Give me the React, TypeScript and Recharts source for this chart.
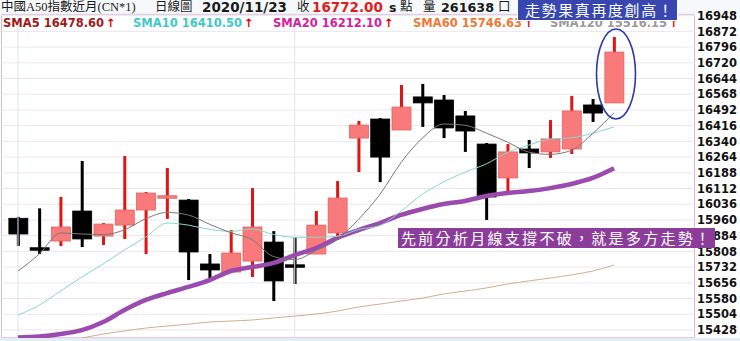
import React from 'react';
import { ComposedChart, Bar, Line, XAxis, YAxis, CartesianGrid, ReferenceLine } from 'recharts';

const dates = ['10/14','10/15','10/16','10/19','10/20','10/21','10/22','10/23','10/26','10/27','10/28','10/29','10/30','11/02','11/03','11/04','11/05','11/06','11/09','11/10','11/11','11/12','11/13','11/16','11/17','11/18','11/19','11/20','11/23'];
const opens = [15968,15821,15858,16003,15882,15935,16008,16066,16056,15747,15708,15761,15853,15742,15795,15897,16356,16448,16395,16555,16540,16463,16327,16163,16303,16289,16303,16516,16526];
const highs = [15975,16016,16071,16245,15945,16269,16095,16211,16061,15795,15911,16114,15906,15877,16003,16148,16439,16453,16613,16618,16564,16487,16332,16327,16347,16443,16560,16545,16845];
const lows = [15834,15795,15834,15829,15839,15868,15795,15965,15669,15679,15708,15684,15568,15650,15795,15863,16192,16143,16395,16410,16356,16289,15960,16090,16211,16260,16279,16434,16526];
const closes = [15892,15818,15926,15868,15940,16008,16090,16076,15805,15718,15800,15926,15665,15732,15935,16066,16419,16264,16506,16526,16405,16390,16071,16289,16284,16352,16487,16477,16772];

const sma5 = [15713,15795,15897,15892,15889,15912,15966,15996,15984,15939,15898,15865,15783,15768,15812,15865,15963,16083,16238,16356,16424,16418,16380,16336,16288,16277,16297,16378,16478];
const sma10 = [15500,15548,15616,15684,15747,15815,15877,15945,15935,15914,15905,15916,15890,15876,15876,15881,15914,15933,16003,16084,16144,16191,16231,16287,16322,16351,16357,16379,16410];
const sma20 = [15392,15396,15408,15427,15466,15524,15573,15606,15636,15669,15713,15732,15752,15790,15824,15873,15911,15945,15984,16013,16037,16052,16076,16090,16100,16114,16134,16163,16210];
const sma60 = [null,null,null,15389,15408,15423,15437,15447,15456,15466,15471,15476,15486,15495,15505,15519,15539,15553,15568,15582,15602,15616,15631,15650,15665,15679,15694,15713,15742];

const yTicks = [16948,16872,16796,16720,16644,16568,16492,16416,16340,16264,16188,16112,16036,15960,15884,15808,15732,15656,15580,15504,15428];

const legend = [
  { label: 'SMA5 16478.60', color: '#9e1a1a', left: 3 },
  { label: 'SMA10 16410.50', color: '#3fc9c9', left: 133 },
  { label: 'SMA20 16212.10', color: '#d4209c', left: 273 },
  { label: 'SMA60 15746.63', color: '#ee7a36', left: 413 },
  { label: 'SMA120 15516.15', color: '#9a9a9a', left: 550 },
];

const data = dates.map((d, i) => ({
  d,
  open: opens[i],
  high: highs[i],
  low: lows[i],
  close: closes[i],
  range: [lows[i], highs[i]],
  sma5: sma5[i],
  sma10: sma10[i],
  sma20: sma20[i],
  sma60: sma60[i],
}));

const Candle = (props: any) => {
  const { x, y, width, height, payload } = props;
  if (payload == null) return null;
  const { open, close, high, low } = payload;
  const cx = x + width / 2;
  const span = high - low || 1;
  const py = (v: number) => y + ((high - v) / span) * height;
  const up = close > open;
  let top = py(Math.max(open, close));
  let bot = py(Math.min(open, close));
  let bh = bot - top;
  if (bh < 2.5) {
    const mid = (top + bot) / 2;
    top = mid - 1.25;
    bh = 2.5;
  }
  const bw = 19;
  const wick = up ? '#e01414' : '#000000';
  return (
    <g>
      <rect x={cx - 1.5} y={y} width={3} height={Math.max(height, 1)} fill={wick} />
      <rect
        x={cx - bw / 2}
        y={top}
        width={bw}
        height={bh}
        fill={up ? '#f87a7a' : '#000000'}
        stroke={up ? '#e46262' : '#000000'}
        strokeWidth={0.8}
      />
    </g>
  );
};

const AxisTick = (props: any) => {
  const { x, y, payload } = props;
  return (
    <text x={x} y={y} dy="0.36em" textAnchor="start" fontFamily="'DejaVu Sans', Verdana, sans-serif" fontWeight="bold" fontSize={11.5} fill="#111">
      {payload.value}
    </text>
  );
};

const cjk = "'Liberation Serif', 'Noto Sans CJK TC', serif";
const bold = "'DejaVu Sans', Verdana, sans-serif";

export default function App() {
  return (
    <div style={{ position: 'absolute', left: 0, top: 0, width: 740, height: 341, overflow: 'hidden', background: '#ffffff' }}>
      <div style={{ position: 'absolute', left: 0, top: 338, width: 740, height: 3, background: '#e4eef6' }} />
      <div style={{ position: 'absolute', left: 0, top: 0, width: 740, height: 14, background: '#f6f9fb' }} />
      <div style={{ position: 'absolute', left: 1, top: 14, width: 694, height: 324, boxSizing: 'border-box', border: '1px solid #d9b4dc', background: '#ffffff' }} />

      <div style={{ position: 'absolute', left: 0, top: 0 }}>
        <ComposedChart width={740} height={341} data={data} margin={{ top: 14, right: 0, bottom: 3, left: 1 }}>
          <CartesianGrid vertical={false} stroke="#ece6ec" strokeWidth={1} />
          <XAxis dataKey="d" hide padding={{ left: 6.35, right: 70.35 }} />
          <YAxis
            orientation="right"
            width={45}
            domain={[15389, 16956]}
            ticks={yTicks}
            interval={0}
            allowDataOverflow
            axisLine={false}
            tickLine={false}
            tickSize={0}
            tickMargin={2}
            tick={<AxisTick />}
          />
          <ReferenceLine x="10/14" stroke="#dbe6ef" strokeWidth={1} />
          <ReferenceLine x="11/02" stroke="#dbe6ef" strokeWidth={1} />
          <Bar dataKey="range" barSize={20} shape={<Candle />} isAnimationActive={false} />
          <Line type="monotone" dataKey="sma60" stroke="#d2ae8e" strokeWidth={1} dot={false} isAnimationActive={false} />
          <Line type="monotone" dataKey="sma20" stroke="#9b4aae" strokeWidth={4.5} dot={false} isAnimationActive={false} />
          <Line type="monotone" dataKey="sma10" stroke="#86d8c8" strokeWidth={1} dot={false} isAnimationActive={false} />
          <Line type="monotone" dataKey="sma5" stroke="#7a7a7a" strokeWidth={1} dot={false} isAnimationActive={false} />
        </ComposedChart>
      </div>

      <div style={{ position: 'absolute', left: 0, top: 0, width: 740, height: 15, fontSize: 13, lineHeight: '15px', whiteSpace: 'nowrap', color: '#1a1a1a' }}>
        <span style={{ position: 'absolute', left: 1, top: 0, fontFamily: cjk, fontSize: 12.5 }}>中國A50指數近月(CN*1)</span>
        <span style={{ position: 'absolute', left: 155, top: 0, fontFamily: cjk, fontSize: 12.5 }}>日線圖</span>
        <span style={{ position: 'absolute', left: 202, top: 0, fontFamily: bold, fontWeight: 'bold', fontSize: 13.5 }}>2020/11/23</span>
        <span style={{ position: 'absolute', left: 297, top: 0, fontFamily: cjk, fontSize: 12.5 }}>收</span>
        <span style={{ position: 'absolute', left: 312, top: 0, fontFamily: bold, fontWeight: 'bold', fontSize: 13.5, color: '#e01e1e' }}>16772.00</span>
        <span style={{ position: 'absolute', left: 389, top: 0, fontFamily: bold, fontWeight: 'bold', fontSize: 12.5 }}>s</span>
        <span style={{ position: 'absolute', left: 400, top: 0, fontFamily: cjk, fontSize: 12.5 }}>點</span>
        <span style={{ position: 'absolute', left: 423, top: 0, fontFamily: cjk, fontSize: 12.5 }}>量</span>
        <span style={{ position: 'absolute', left: 441, top: 0, fontFamily: bold, fontWeight: 'bold', fontSize: 12.7 }}>261638</span>
        <span style={{ position: 'absolute', left: 498, top: 0, fontFamily: cjk, fontSize: 12.5 }}>口</span>
      </div>

      {legend.map((l) => (
        <div key={l.label} style={{ position: 'absolute', left: l.left, top: 16, whiteSpace: 'nowrap', fontFamily: bold, fontWeight: 'bold', fontSize: 11.5, lineHeight: '14px', color: l.color }}>
          {l.label}
          <span style={{ color: '#e00000', marginLeft: 2 }}>↑</span>
        </div>
      ))}

      <div style={{ position: 'absolute', left: 517, top: -1, width: 161, height: 22, boxSizing: 'border-box', background: '#3847b0', border: '1px solid #ffffff', color: '#ffffff', fontFamily: "'Noto Sans CJK TC', sans-serif", fontSize: 15, lineHeight: '20px', letterSpacing: 1.6, paddingLeft: 7, whiteSpace: 'nowrap' }}>
        走勢果真再度創高！
      </div>

      <div style={{ position: 'absolute', left: 398, top: 228, width: 317, height: 20, background: '#8c3d9a', color: '#ffffff', fontFamily: "'Noto Sans CJK TC', sans-serif", fontSize: 15, lineHeight: '20px', letterSpacing: 2.3, paddingLeft: 3, boxSizing: 'border-box', whiteSpace: 'nowrap' }}>
        先前分析月線支撐不破，就是多方走勢！
      </div>

      <svg style={{ position: 'absolute', left: 0, top: 0 }} width={740} height={341}>
        <ellipse cx={616} cy={74} rx={19.5} ry={45} fill="none" stroke="#2b38a6" strokeWidth={1.6} />
      </svg>
    </div>
  );
}
